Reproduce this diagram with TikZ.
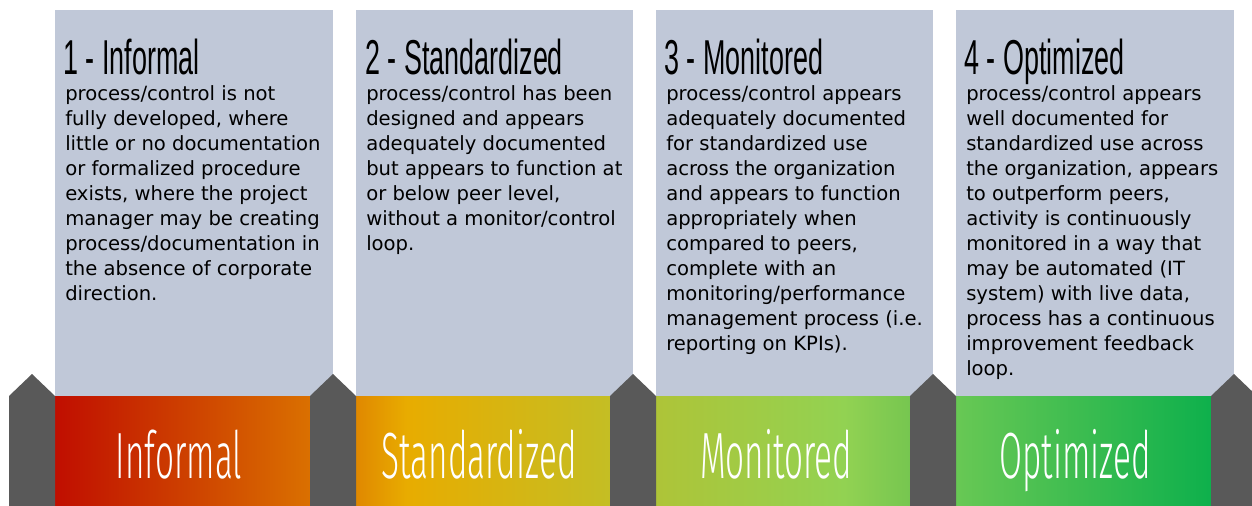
\documentclass[tikz,border=0pt]{standalone}
\usepackage{fontspec}
\setmainfont{DejaVu Sans}
\newfontfamily\titlefont[FakeStretch=0.55]{Liberation Sans}
\newfontfamily\barfont[FakeStretch=0.51]{Fira Sans Light}

\definecolor{panelgray}{RGB}{192,200,216}
\definecolor{pillargray}{RGB}{89,89,89}
\definecolor{infA}{RGB}{192,14,0}
\definecolor{infB}{RGB}{218,112,0}
\definecolor{stdA}{RGB}{224,136,0}
\definecolor{stdB}{RGB}{232,172,0}
\definecolor{stdC}{RGB}{196,190,36}
\definecolor{monA}{RGB}{174,196,56}
\definecolor{monB}{RGB}{146,210,82}
\definecolor{monC}{RGB}{118,198,80}
\definecolor{optA}{RGB}{104,200,84}
\definecolor{optB}{RGB}{14,176,76}

% bar shadings (the 25bp--75bp part fills the bar)
\pgfdeclarehorizontalshading{informalshade}{100bp}{color(0bp)=(infA); color(25bp)=(infA); color(75bp)=(infB); color(100bp)=(infB)}
\pgfdeclarehorizontalshading{standardshade}{100bp}{color(0bp)=(stdA); color(25bp)=(stdA); color(35bp)=(stdB); color(75bp)=(stdC); color(100bp)=(stdC)}
\pgfdeclarehorizontalshading{monitorshade}{100bp}{color(0bp)=(monA); color(25bp)=(monA); color(62bp)=(monB); color(75bp)=(monC); color(100bp)=(monC)}
\pgfdeclarehorizontalshading{optimizeshade}{100bp}{color(0bp)=(optA); color(25bp)=(optA); color(75bp)=(optB); color(100bp)=(optB)}

\begin{document}
\begin{tikzpicture}[
    x=0.75pt, y=-0.75pt,
    panel/.style={fill=panelgray},
    pillar/.style={fill=pillargray},
    heading/.style={anchor=base west, inner sep=0pt, font=\titlefont\fontsize{36.75}{40}\selectfont},
    bodytext/.style={anchor=north west, inner sep=0pt, align=left, font=\fontsize{14.7}{18.75}\selectfont},
    barlabel/.style={anchor=base, inner sep=0pt, text=white, font=\barfont\fontsize{49}{52}\selectfont}
]
    \clip (0,0) rectangle (1252,506);

    % Light panels behind the descriptions
    \fill[panel] (55,10) rectangle (333,396);
    \fill[panel] (356,10) rectangle (633,396);
    \fill[panel] (656,10) rectangle (933,396);
    \fill[panel] (956,10) rectangle (1234,396);

    % Coloured maturity bar
    \shade[shading=informalshade] (55,396) rectangle (310,506);
    \shade[shading=standardshade] (356,396) rectangle (610,506);
    \shade[shading=monitorshade] (656,396) rectangle (910,506);
    \shade[shading=optimizeshade] (956,396) rectangle (1211,506);

    % Dark pillars between the levels
    \fill[pillar] (9,506) -- (9,396) -- (32,374) -- (55,396) -- (55,506) -- cycle;
    \fill[pillar] (310,506) -- (310,396) -- (333,374) -- (356,396) -- (356,506) -- cycle;
    \fill[pillar] (610,506) -- (610,396) -- (633,374) -- (656,396) -- (656,506) -- cycle;
    \fill[pillar] (910,506) -- (910,396) -- (933,374) -- (956,396) -- (956,506) -- cycle;
    \fill[pillar] (1211,506) -- (1211,396) -- (1234,374) -- (1257,396) -- (1257,506) -- cycle;

    % Level 1
    \node[heading] (title1) at (63,75) {1 - Informal};
    \node[bodytext] (desc1) at (65,85) {process/control is not\\fully developed, where\\little or no documentation\\or formalized procedure\\exists, where the project\\manager may be creating\\process/documentation in\\the absence of corporate\\direction.};
    \node[barlabel] (bar1) at (179,478) {Informal};

    % Level 2
    \node[heading] (title2) at (365,75) {2 - Standardized};
    \node[bodytext] (desc2) at (366,85) {process/control has been\\designed and appears\\adequately documented\\but appears to function at\\or below peer level,\\without a monitor/control\\loop.};
    \node[barlabel] (bar2) at (479,478) {Standardized};

    % Level 3
    \node[heading] (title3) at (664,75) {3 - Monitored};
    \node[bodytext] (desc3) at (666,85) {process/control appears\\adequately documented\\for standardized use\\across the organization\\and appears to function\\appropriately when\\compared to peers,\\complete with an\\monitoring/performance\\management process (i.e.\\reporting on KPIs).};
    \node[barlabel] (bar3) at (776,478) {Monitored};

    % Level 4
    \node[heading] (title4) at (964,75) {4 - Optimized};
    \node[bodytext] (desc4) at (966,85) {process/control appears\\well documented for\\standardized use across\\the organization, appears\\to outperform peers,\\activity is continuously\\monitored in a way that\\may be automated (IT\\system) with live data,\\process has a continuous\\improvement feedback\\loop.};
    \node[barlabel] (bar4) at (1075,478) {Optimized};
\end{tikzpicture}
\end{document}
